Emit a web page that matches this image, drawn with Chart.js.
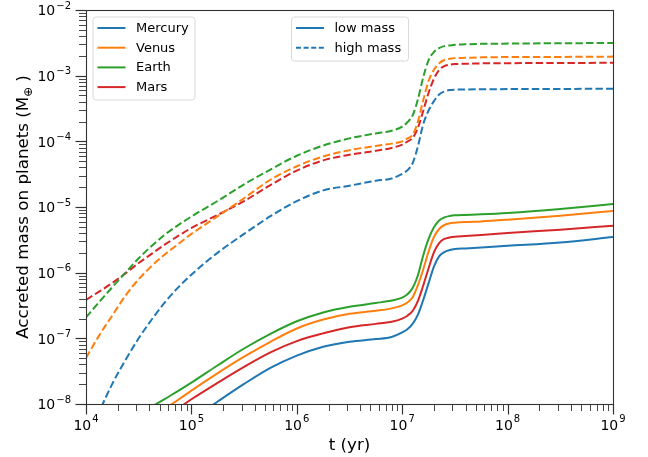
<!DOCTYPE html>
<html>
<head>
<meta charset="utf-8">
<script src="https://cdn.jsdelivr.net/npm/chart.js@4.4.0/dist/chart.umd.min.js"></script>
<style>
html,body{margin:0;padding:0;background:#fff}
canvas{display:block}
</style>
</head>
<body>
<canvas id="grafica" width="648" height="457"></canvas>
<script>
//DATOS
const years=[1.00e4,1.33e4,1.78e4,2.37e4,3.16e4,4.22e4,5.62e4,7.50e4,1.00e5,1.78e5,3.16e5,5.62e5,1.00e6,1.78e6,3.16e6,5.62e6,7.94e6,
    1.00e7,1.12e7,1.26e7,1.41e7,1.58e7,1.78e7,2.00e7,2.24e7,2.51e7,2.82e7,3.16e7,3.98e7,5.62e7,1.00e8,3.16e8,1.00e9]

const mercuryLow=[4.68e-10,6.31e-10,8.71e-10,1.20e-9,1.62e-9,2.24e-9,3.02e-9,4.17e-9,5.75e-9,1.09e-8,2.02e-8,3.55e-8,5.46e-8,7.45e-8,8.89e-8,9.73e-8,1.05e-7,
    1.23e-7,1.38e-7,1.68e-7,2.29e-7,3.80e-7,6.93e-7,1.24e-6,1.77e-6,2.06e-6,2.21e-6,2.29e-6,2.34e-6,2.42e-6,2.57e-6,2.89e-6,3.49e-6]
const venusLow=[1.35e-9,1.82e-9,2.45e-9,3.39e-9,4.57e-9,6.31e-9,8.51e-9,1.16e-8,1.60e-8,2.95e-8,5.25e-8,8.85e-8,1.41e-7,1.93e-7,2.36e-7,2.63e-7,2.86e-7,
    3.18e-7,3.51e-7,4.27e-7,6.46e-7,1.11e-6,2.10e-6,3.49e-6,4.62e-6,5.32e-6,5.64e-6,5.77e-6,5.92e-6,6.04e-6,6.41e-6,7.38e-6,8.71e-6]
const earthLow=[2.19e-9,2.88e-9,3.80e-9,5.13e-9,6.92e-9,9.12e-9,1.20e-8,1.58e-8,2.11e-8,3.89e-8,7.00e-8,1.17e-7,1.82e-7,2.48e-7,3.03e-7,3.45e-7,3.76e-7,
    4.17e-7,4.68e-7,5.89e-7,9.12e-7,1.81e-6,3.26e-6,4.90e-6,6.25e-6,6.95e-6,7.29e-6,7.46e-6,7.57e-6,7.73e-6,8.11e-6,9.33e-6,1.11e-5]
const marsLow=[1.00e-9,1.35e-9,1.82e-9,2.45e-9,3.31e-9,4.57e-9,6.31e-9,8.61e-9,1.18e-8,2.11e-8,3.68e-8,6.12e-8,9.08e-8,1.19e-7,1.48e-7,1.66e-7,1.79e-7,
    2.00e-7,2.21e-7,2.63e-7,3.72e-7,6.31e-7,1.17e-6,2.03e-6,2.82e-6,3.26e-6,3.44e-6,3.53e-6,3.61e-6,3.74e-6,4.02e-6,4.51e-6,5.20e-6]

const mercuryHigh=[2.24e-9,7.41e-9,2.04e-8,4.68e-8,1.00e-7,1.95e-7,3.55e-7,5.96e-7,9.33e-7,2.02e-6,3.89e-6,7.24e-6,1.23e-5,1.79e-5,2.11e-5,2.51e-5,2.72e-5,
    3.20e-5,3.62e-5,4.70e-5,8.41e-5,1.80e-4,2.95e-4,4.09e-4,5.18e-4,5.75e-4,6.03e-4,6.11e-4,6.17e-4,6.21e-4,6.24e-4,6.28e-4,6.32e-4]
const venusHigh=[5.01e-8,1.10e-7,2.24e-7,4.47e-7,7.94e-7,1.27e-6,1.91e-6,2.72e-6,3.89e-6,7.24e-6,1.36e-5,2.60e-5,4.17e-5,5.89e-5,7.33e-5,8.51e-5,9.23e-5,
    1.00e-4,1.11e-4,1.27e-4,2.00e-4,4.17e-4,8.32e-4,1.23e-3,1.54e-3,1.73e-3,1.81e-3,1.85e-3,1.87e-3,1.90e-3,1.92e-3,1.93e-3,1.95e-3]
const earthHigh=[2.09e-7,3.55e-7,6.03e-7,1.00e-6,1.66e-6,2.57e-6,3.80e-6,5.31e-6,7.16e-6,1.24e-5,2.21e-5,3.72e-5,6.03e-5,8.61e-5,1.11e-4,1.32e-4,1.45e-4,
    1.68e-4,1.95e-4,2.51e-4,4.37e-4,9.33e-4,1.73e-3,2.29e-3,2.63e-3,2.82e-3,2.89e-3,2.96e-3,3.00e-3,3.05e-3,3.08e-3,3.12e-3,3.14e-3]
const marsHigh=[3.86e-7,5.13e-7,7.00e-7,9.77e-7,1.40e-6,1.95e-6,2.69e-6,3.63e-6,4.79e-6,7.59e-6,1.23e-5,2.16e-5,3.59e-5,5.13e-5,6.24e-5,7.16e-5,7.94e-5,
    8.93e-5,9.93e-5,1.13e-4,1.61e-4,2.88e-4,5.50e-4,8.97e-4,1.22e-3,1.40e-3,1.47e-3,1.50e-3,1.52e-3,1.54e-3,1.55e-3,1.56e-3,1.57e-3]

const planetas=["Mercury","Venus","Earth","Mars"]
const masas=["low mass","high mass"]
const xDecadas=[4,5,6,7,8,9]
const yDecadas=[-8,-7,-6,-5,-4,-3,-2]
const xExponentes=["4","5","6","7","8","9"]
const yExponentes=["\u22128","\u22127","\u22126","\u22125","\u22124","\u22123","\u22122"]

//ESTILO
const colores=["#1f77b4","#ff7f0e","#2ca02c","#d62728"]
const guion=[7.4,3.2]
const fuente="'DejaVu Sans', sans-serif"

//FUNCIONES
function puntos(serie){
    return years.map((t,i)=>({x:t,y:serie[i]}))
}

function esPotencia(v){
    const e=Math.log10(v)
    return Math.abs(e-Math.round(e))<1e-9
}

function ticksLog(decadas){
    const lista=[]
    decadas.forEach((d,i)=>{
        const n=i<decadas.length-1 ? 9 : 1
        for(let m=1;m<=n;m++) lista.push({value:m*Math.pow(10,d)})
    })
    return lista
}

const bajas=[mercuryLow,venusLow,earthLow,marsLow]
const altas=[mercuryHigh,venusHigh,earthHigh,marsHigh]

const datasets=[]
bajas.forEach((s,i)=>datasets.push({
    label:planetas[i]+" "+masas[0],
    data:puntos(s),
    borderColor:colores[i],
    borderWidth:2,
    pointRadius:0,
    cubicInterpolationMode:"monotone",
    fill:false
}))
altas.forEach((s,i)=>datasets.push({
    label:planetas[i]+" "+masas[1],
    data:puntos(s),
    borderColor:colores[i],
    borderWidth:2,
    borderDash:guion,
    pointRadius:0,
    cubicInterpolationMode:"monotone",
    fill:false
}))

//plugin: marco, ticks, etiquetas, titulos y leyendas
const decorado={
    id:"decorado",
    afterDraw(chart){
        const ctx=chart.ctx
        const a=chart.chartArea
        const sx=chart.scales.x, sy=chart.scales.y
        ctx.save()
        ctx.strokeStyle="#333"

        sx.ticks.forEach(t=>{
            const p=Math.round(sx.getPixelForValue(t.value))+0.5
            const mayor=esPotencia(t.value)
            ctx.lineWidth=mayor?1.2:0.9
            ctx.beginPath()
            ctx.moveTo(p,a.bottom)
            ctx.lineTo(p,a.bottom+(mayor?10.5:7))
            ctx.stroke()
        })
        sy.ticks.forEach(t=>{
            const p=Math.round(sy.getPixelForValue(t.value))+0.5
            const mayor=esPotencia(t.value)
            ctx.lineWidth=mayor?1.2:0.9
            ctx.beginPath()
            ctx.moveTo(a.left,p)
            ctx.lineTo(a.left-(mayor?10.5:7),p)
            ctx.stroke()
        })

        ctx.lineWidth=1.1
        ctx.strokeRect(Math.round(a.left)+0.5,Math.round(a.top)+0.5,Math.round(a.right-a.left),Math.round(a.bottom-a.top))

        //etiquetas de ticks: 10 con exponente
        ctx.fillStyle="#000"
        ctx.textAlign="left"
        ctx.textBaseline="alphabetic"
        xDecadas.forEach((d,i)=>{
            const px=sx.getPixelForValue(Math.pow(10,d))
            ctx.font="14px "+fuente
            const wb=ctx.measureText("10").width
            ctx.font="10px "+fuente
            const we=ctx.measureText(xExponentes[i]).width
            const x0=px-(wb+1+we)/2
            ctx.font="14px "+fuente
            ctx.fillText("10",x0,a.bottom+25.5)
            ctx.font="10px "+fuente
            ctx.fillText(xExponentes[i],x0+wb+1,a.bottom+18)
        })
        yDecadas.forEach((d,i)=>{
            const py=sy.getPixelForValue(Math.pow(10,d))
            ctx.font="14px "+fuente
            const wb=ctx.measureText("10").width
            ctx.font="10px "+fuente
            const we=ctx.measureText(yExponentes[i]).width
            const xr=a.left-15
            ctx.font="14px "+fuente
            ctx.fillText("10",xr-we-1-wb,py+5.2)
            ctx.font="10px "+fuente
            ctx.fillText(yExponentes[i],xr-we,py-1.3)
        })

        //titulos
        ctx.font="16.7px "+fuente
        ctx.textAlign="center"
        ctx.fillText("t (yr)",(a.left+a.right)/2,450)

        const t1="Accreted mass on planets (M"
        const sub="\u2295"
        const t2=" )"
        ctx.font="16.7px "+fuente
        const w1=ctx.measureText(t1).width
        const w3=ctx.measureText(t2).width
        ctx.font="11.7px "+fuente
        const w2=ctx.measureText(sub).width
        const total=w1+w2+w3
        ctx.translate(28,(a.top+a.bottom)/2)
        ctx.rotate(-Math.PI/2)
        ctx.textAlign="left"
        ctx.font="16.7px "+fuente
        ctx.fillText(t1,-total/2,0)
        ctx.font="11.7px "+fuente
        ctx.fillText(sub,-total/2+w1,3.5)
        ctx.font="16.7px "+fuente
        ctx.fillText(t2,-total/2+w1+w2,0)
        ctx.setTransform(1,0,0,1,0,0)

        //leyendas
        function caja(x,y,w,h){
            ctx.beginPath()
            ctx.roundRect(x+0.5,y+0.5,w,h,3)
            ctx.fillStyle="rgba(255,255,255,0.8)"
            ctx.fill()
            ctx.strokeStyle="#d9d9d9"
            ctx.lineWidth=1
            ctx.stroke()
        }
        function fila(x,y,color,dash,texto){
            ctx.strokeStyle=color
            ctx.lineWidth=2
            ctx.setLineDash(dash)
            ctx.beginPath()
            ctx.moveTo(x,y)
            ctx.lineTo(x+28,y)
            ctx.stroke()
            ctx.setLineDash([])
            ctx.fillStyle="#000"
            ctx.font="13px "+fuente
            ctx.textAlign="left"
            ctx.textBaseline="middle"
            ctx.fillText(texto,x+38.5,y+0.5)
        }
        const l1x=a.left+6.5, l1y=a.top+6.5
        caja(l1x,l1y,102,83)
        planetas.forEach((p,i)=>fila(l1x+5,l1y+11.5+i*19.7,colores[i],[],p))

        const l2x=291, l2y=a.top+6.5
        caja(l2x,l2y,117,44)
        masas.forEach((m,i)=>fila(l2x+5,l2y+11.5+i*19.7,colores[0],i?[5,2.6]:[],m))

        ctx.restore()
    }
}

const config={
    type:"line",
    data:{datasets},
    options:{
        responsive:false,
        animation:false,
        layout:{padding:{top:10,right:35,left:0,bottom:0}},
        plugins:{legend:{display:false},tooltip:{enabled:false}},
        scales:{
            x:{
                type:"logarithmic",
                min:1e4,max:1e9,
                afterBuildTicks:s=>{s.ticks=ticksLog(xDecadas)},
                afterFit:s=>{s.height=53},
                grid:{display:false},
                border:{display:false},
                ticks:{display:false,autoSkip:false}
            },
            y:{
                type:"logarithmic",
                min:1e-8,max:1e-2,
                afterBuildTicks:s=>{s.ticks=ticksLog(yDecadas)},
                afterFit:s=>{s.width=86},
                grid:{display:false},
                border:{display:false},
                ticks:{display:false,autoSkip:false}
            }
        }
    },
    plugins:[decorado]
}

const grafica=new Chart(document.querySelector("#grafica"),config)
</script>
</body>
</html>
